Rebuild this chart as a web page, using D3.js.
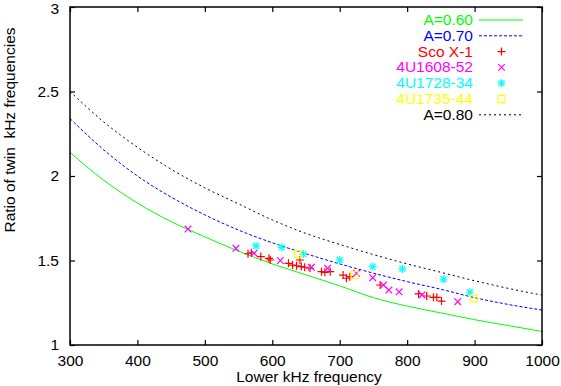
<!DOCTYPE html>
<html>
<head>
<meta charset="utf-8">
<script src="https://cdn.jsdelivr.net/npm/d3@7"></script>
<style>
  body { margin: 0; background: #fff; }
  svg text { font-family: "Liberation Sans", Arial, sans-serif; }
</style>
</head>
<body>
<div id="chart"></div>
<script>
// model curves (lower freq -> ratio)
var freqGrid = [300, 350, 400, 450, 500, 550, 600, 650, 700, 750, 800, 850, 900, 950, 1000];
var curveA060 = [2.14, 1.975, 1.84, 1.73, 1.64, 1.555, 1.48, 1.415, 1.35, 1.28, 1.23, 1.19, 1.15, 1.115, 1.08];
var curveA070 = [2.34, 2.155, 2.0, 1.875, 1.77, 1.68, 1.605, 1.54, 1.48, 1.425, 1.375, 1.33, 1.28, 1.24, 1.207];
var curveA080 = [2.50, 2.32, 2.17, 2.04, 1.93, 1.835, 1.74, 1.66, 1.595, 1.535, 1.48, 1.43, 1.38, 1.335, 1.295];

// observed sources [lower freq, ratio]
var scoX1 = [[564, 1.540], [569, 1.546], [583, 1.523], [595, 1.513], [597, 1.503], [624, 1.483],
  [630, 1.473], [636, 1.469], [641, 1.503], [643, 1.464], [648, 1.460], [656, 1.454],
  [673, 1.434], [678, 1.430], [686, 1.434], [705, 1.414], [710, 1.395], [715, 1.404],
  [760, 1.355], [817, 1.302], [829, 1.290], [839, 1.282], [844, 1.282], [851, 1.260]];
var u1608 = [[475, 1.686], [546, 1.572], [573, 1.543], [612, 1.500], [658, 1.460], [682, 1.454],
  [725, 1.424], [749, 1.398], [765, 1.355], [773, 1.325], [788, 1.315], [822, 1.296], [875, 1.256]];
var u1728 = [[576, 1.586], [614, 1.578], [646, 1.538], [700, 1.503], [749, 1.464], [793, 1.450],
  [854, 1.389], [893, 1.312]];
var u1735 = [[638, 1.537], [722, 1.414], [899, 1.276]];

var xTicks = [300, 400, 500, 600, 700, 800, 900, 1000];
var yTicks = [1, 1.5, 2, 2.5, 3];

var W = 561, H = 386;
var margin = {top: 7, right: 19, bottom: 41, left: 70},
  width = W - margin.left - margin.right,
  height = H - margin.top - margin.bottom;

var svg = d3.select("#chart").append("svg")
  .attr("width", W).attr("height", H);
var g = svg.append("g")
  .attr("transform", "translate(" + margin.left + "," + margin.top + ")");

var x = d3.scaleLinear().domain([300, 1000]).range([0, width]);
var y = d3.scaleLinear().domain([1, 3]).range([height, 0]);

// axes, ticks inward and mirrored
function styleAxis(sel) {
  sel.select(".domain").remove();
  sel.selectAll(".tick line").attr("stroke", "#000").attr("stroke-width", 1.2);
  sel.selectAll("text").attr("font-size", "15.5px").attr("fill", "#000");
}
g.append("g").attr("transform", "translate(0," + height + ")")
  .call(d3.axisBottom(x).tickValues(xTicks).tickSizeInner(-5).tickPadding(10).tickSizeOuter(0)
    .tickFormat(d3.format("d")))
  .call(styleAxis);
g.append("g")
  .call(d3.axisTop(x).tickValues(xTicks).tickSizeInner(-5).tickSizeOuter(0).tickFormat(""))
  .call(styleAxis);
var yAxisG = g.append("g")
  .call(d3.axisLeft(y).tickValues(yTicks).tickSizeInner(-5).tickPadding(11).tickSizeOuter(0)
    .tickFormat(function(d) { return d; }))
  .call(styleAxis);
// keep the top label inside the page
yAxisG.selectAll(".tick text").filter(function(d) { return d === 3; }).attr("dy", "0.45em");
g.append("g").attr("transform", "translate(" + width + ",0)")
  .call(d3.axisRight(y).tickValues(yTicks).tickSizeInner(-5).tickSizeOuter(0).tickFormat(""))
  .call(styleAxis);

// model curves
var line = d3.line()
  .x(function(d, i) { return x(freqGrid[i]); })
  .y(function(d) { return y(d); })
  .curve(d3.curveMonotoneX);

var curves = [
  {data: curveA060, color: "#00ff00", dash: null, label: "A=0.60"},
  {data: curveA070, color: "#0000ff", dash: "3 2", label: "A=0.70"},
  {data: curveA080, color: "#000000", dash: "2 3", label: "A=0.80"}
];
curves.forEach(function(c) {
  g.append("path").datum(c.data)
    .attr("fill", "none")
    .attr("stroke", c.color)
    .attr("stroke-width", 1)
    .attr("stroke-dasharray", c.dash)
    .attr("d", line);
});

// point markers
function marker(sel, type, color) {
  var s = 4;
  if (type === "plus" || type === "star") {
    sel.append("path").attr("d", "M" + (-s) + ",0H" + s + "M0," + (-s) + "V" + s);
  }
  if (type === "cross" || type === "star") {
    var t = type === "star" ? 3 : 3.3;
    sel.append("path").attr("d", "M" + (-t) + "," + (-t) + "L" + t + "," + t + "M" + (-t) + "," + t + "L" + t + "," + (-t));
  }
  if (type === "box") {
    sel.append("rect").attr("x", -3.5).attr("y", -3.5).attr("width", 7).attr("height", 7).attr("fill", "none");
  }
  sel.selectAll("path, rect").attr("stroke", color).attr("stroke-width", 1.2).attr("fill", "none");
}

var sets = [
  {data: scoX1, type: "plus", color: "#ff0000", label: "Sco X-1"},
  {data: u1608, type: "cross", color: "#ff00ff", label: "4U1608-52"},
  {data: u1728, type: "star", color: "#00ffff", label: "4U1728-34"},
  {data: u1735, type: "box", color: "#ffff00", label: "4U1735-44"}
];
sets.forEach(function(s) {
  g.append("g").selectAll("g").data(s.data).enter().append("g")
    .attr("transform", function(d) { return "translate(" + x(d[0]) + "," + y(d[1]) + ")"; })
    .each(function() { marker(d3.select(this), s.type, s.color); });
});

// frame
g.append("rect").attr("width", width).attr("height", height)
  .attr("fill", "none").attr("stroke", "#000").attr("stroke-width", 1.5);

// legend
var legend = [
  {text: "A=0.60", color: "#00ff00", kind: "line", c: curves[0]},
  {text: "A=0.70", color: "#0000ff", kind: "line", c: curves[1]},
  {text: "Sco X-1", color: "#ff0000", kind: "pt", s: sets[0]},
  {text: "4U1608-52", color: "#ff00ff", kind: "pt", s: sets[1]},
  {text: "4U1728-34", color: "#00ffff", kind: "pt", s: sets[2]},
  {text: "4U1735-44", color: "#ffff00", kind: "pt", s: sets[3]},
  {text: "A=0.80", color: "#000000", kind: "line", c: curves[2]}
];
legend.forEach(function(L, i) {
  var base = 25 + i * 15.8;
  svg.append("text").attr("x", 473).attr("y", base)
    .attr("text-anchor", "end").attr("font-size", "15.5px")
    .attr("fill", L.color).text(L.text);
  if (L.kind === "line") {
    svg.append("line").attr("x1", 479).attr("x2", 523)
      .attr("y1", base - 5).attr("y2", base - 5)
      .attr("stroke", L.c.color).attr("stroke-width", 1)
      .attr("stroke-dasharray", L.c.dash);
  } else {
    var mg = svg.append("g").attr("transform", "translate(501.5," + (base - 5) + ")");
    marker(mg, L.s.type, L.s.color);
  }
});

// axis labels
svg.append("text")
  .attr("x", margin.left + width / 2 + 3).attr("y", 382)
  .attr("text-anchor", "middle").attr("font-size", "15.5px")
  .text("Lower kHz frequency");
svg.append("text")
  .attr("text-anchor", "middle").attr("font-size", "15.5px")
  .attr("transform", "translate(15,130)rotate(-90)")
  .style("white-space", "pre")
  .text("Ratio of twin  kHz frequencies");
</script>
</body>
</html>
